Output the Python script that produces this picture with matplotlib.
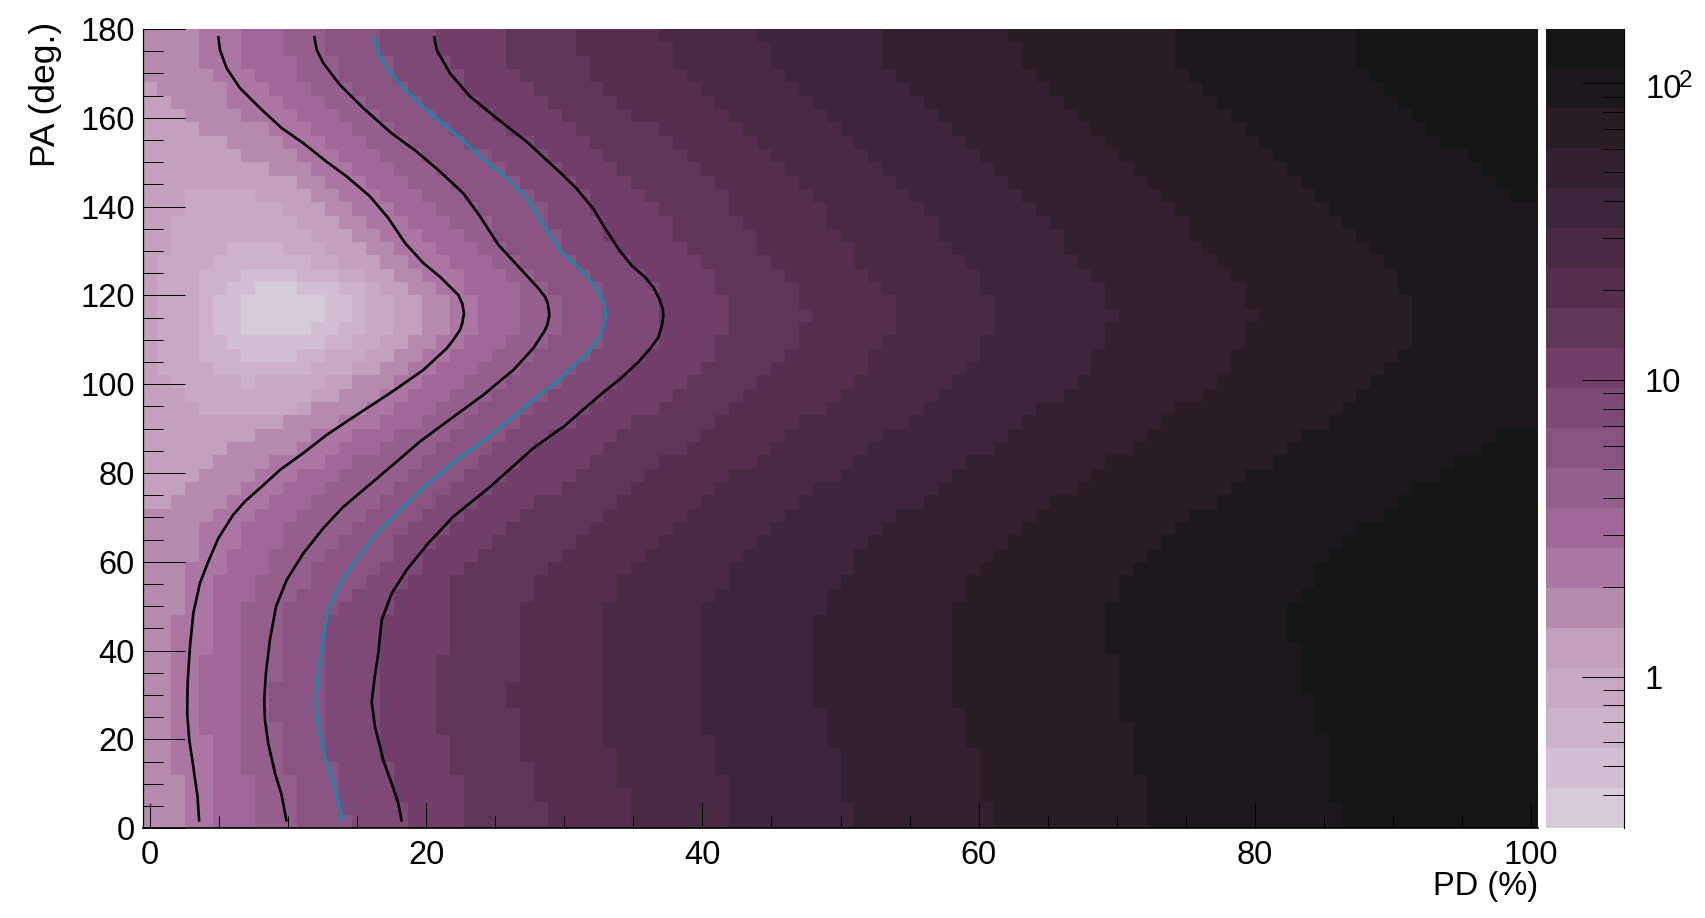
"""
PD / PA scan map: log-scale colour bands with four contour curves.
"""
import numpy as np
import matplotlib
matplotlib.use("Agg")
import matplotlib.pyplot as plt
from matplotlib.colors import BoundaryNorm, ListedColormap
from matplotlib.ticker import FixedLocator, MultipleLocator, NullFormatter

plt.rcParams['font.family'] = ['Liberation Sans', 'DejaVu Sans']

# Band limits and colours, lightest band first
band_levels = [0.308, 0.420, 0.573, 0.782, 1.066, 1.455, 1.985, 2.708, 3.694, 5.04, 6.87,
               9.38, 12.8, 17.45, 23.8, 32.5, 44.3, 60.5, 82.5, 112.5, 152.0]
band_colors = ['#D6CCD7', '#D2BFD1', '#CDB2CA', '#C8A8C3', '#C2A0BE', '#B68AAE', '#AB76A4',
               '#A06898', '#945E8D', '#895381', '#7D4976', '#713E69', '#613559', '#552E4F',
               '#4A2943', '#3E253A', '#322030', '#281C25', '#1C181D', '#141515']

# Closed regions around the minimum: rows, first bin and end bin of each region
core1_rows = [40, 39, 38, 37]
core1_left = [8, 7, 7, 7]
core1_right = [11, 13, 13, 12]
core2_rows = [41, 40, 39, 38, 37, 36, 35]
core2_left = [7, 6, 5, 5, 5, 6, 7]
core2_right = [11, 14, 15, 15, 14, 13, 11]
core3_rows = [43, 42, 41, 40, 39, 38, 37, 36, 35, 34, 33]
core3_left = [6, 5, 4, 4, 4, 4, 4, 4, 4, 5, 7]
core3_right = [10, 12, 14, 16, 16, 16, 16, 15, 13, 12, 8]
core4_rows = [47, 46, 45, 44, 43, 42, 41, 40, 39, 38, 37, 36, 35, 34, 33, 32, 31]
core4_left = [3, 3, 2, 2, 2, 1, 1, 1, 1, 1, 1, 1, 1, 1, 2, 3, 4]
core4_right = [8, 10, 11, 12, 13, 14, 16, 17, 18, 18, 18, 17, 16, 15, 13, 12, 11]
core5_rows = [55, 54, 53, 52, 51, 50, 49, 48, 47, 46, 45, 44, 43, 42, 41, 40,
              39, 38, 37, 36, 35, 34, 33, 32, 31, 30, 29, 28, 27, 26, 25, 24]
core5_left = [0] * 32
core5_right = [1, 2, 3, 4, 6, 7, 9, 11, 12, 13, 14, 15, 16, 17, 18, 19,
               20, 20, 20, 19, 18, 17, 15, 14, 12, 10, 8, 6, 5, 4, 3, 2]

# First bin past each band, one value per row, top row (PA 177-180) first
edge_5 = [4, 4, 4, 5, 6, 6, 7, 9, 10, 11,
          12, 13, 14, 15, 16, 17, 18, 19, 20, 21,
          22, 22, 22, 21, 20, 19, 18, 17, 16, 14,
          12, 11, 9, 8, 7, 6, 5, 4, 4, 4,
          3, 3, 3, 3, 2, 2, 2, 2, 2, 2,
          2, 2, 2, 2, 2, 2, 3, 3, 3, 3]
edge_6 = [7, 7, 7, 8, 9, 10, 11, 12, 13, 14,
          15, 16, 17, 18, 19, 20, 21, 22, 23, 23,
          24, 24, 24, 23, 22, 21, 20, 19, 18, 17,
          15, 14, 13, 11, 10, 9, 8, 7, 7, 6,
          6, 5, 5, 5, 5, 5, 5, 4, 4, 4,
          4, 4, 4, 5, 5, 5, 5, 5, 5, 5]
edge_7 = [10, 10, 11, 11, 12, 13, 14, 15, 16, 17,
          18, 19, 20, 21, 22, 23, 24, 25, 26, 27,
          27, 27, 27, 26, 25, 24, 23, 22, 21, 20,
          18, 17, 15, 14, 13, 12, 11, 10, 10, 9,
          9, 8, 8, 7, 7, 7, 7, 7, 7, 7,
          7, 7, 7, 7, 7, 7, 8, 8, 8, 8]
edge_8 = [13, 13, 14, 14, 15, 16, 17, 18, 19, 20,
          21, 22, 23, 24, 25, 25, 26, 27, 28, 29,
          30, 30, 30, 29, 28, 27, 26, 25, 24, 23,
          22, 21, 20, 19, 18, 17, 16, 15, 14, 13,
          12, 12, 11, 10, 10, 10, 10, 10, 10, 9,
          9, 9, 10, 10, 10, 10, 11, 11, 11, 11]
edge_9 = [17, 17, 18, 18, 19, 20, 21, 22, 23, 25,
          26, 27, 28, 29, 29, 30, 30, 31, 32, 33,
          33, 33, 33, 33, 32, 31, 30, 29, 28, 27,
          26, 25, 24, 23, 22, 21, 20, 19, 18, 18,
          17, 16, 15, 14, 13, 13, 13, 13, 13, 13,
          13, 13, 13, 13, 13, 14, 14, 14, 14, 15]
edge_10 = [21, 21, 22, 23, 23, 24, 25, 26, 28, 29,
           30, 31, 32, 32, 33, 33, 34, 35, 36, 37,
           37, 37, 37, 37, 36, 35, 34, 33, 32, 31,
           29, 28, 27, 26, 25, 24, 23, 22, 21, 20,
           20, 19, 18, 18, 17, 17, 17, 17, 17, 17,
           17, 17, 17, 17, 17, 18, 18, 18, 19, 19]
edge_11 = [26, 26, 26, 27, 28, 29, 30, 31, 32, 33,
           34, 35, 36, 37, 38, 38, 39, 40, 41, 41,
           42, 42, 42, 41, 41, 40, 39, 38, 37, 35,
           34, 33, 32, 31, 30, 28, 27, 26, 25, 24,
           23, 22, 22, 22, 22, 22, 22, 21, 21, 21,
           21, 21, 21, 22, 22, 22, 23, 23, 23, 23]
edge_12 = [31, 31, 32, 32, 33, 34, 35, 37, 38, 39,
           40, 41, 42, 42, 43, 44, 44, 45, 46, 47,
           47, 48, 47, 47, 46, 45, 44, 43, 42, 41,
           40, 39, 37, 36, 35, 34, 33, 32, 31, 30,
           29, 28, 28, 27, 27, 27, 27, 27, 27, 26,
           26, 27, 27, 27, 27, 28, 28, 28, 29, 29]
edge_13 = [37, 38, 38, 39, 40, 41, 42, 43, 44, 45,
           46, 47, 48, 49, 49, 50, 51, 51, 52, 53,
           54, 54, 54, 53, 52, 52, 51, 50, 49, 47,
           46, 45, 44, 42, 41, 40, 39, 38, 37, 36,
           35, 34, 34, 33, 33, 33, 33, 33, 33, 33,
           33, 33, 33, 33, 34, 34, 34, 35, 35, 35]
edge_14 = [44, 45, 45, 46, 47, 48, 49, 50, 51, 52,
           53, 54, 55, 56, 57, 57, 58, 59, 60, 60,
           61, 61, 61, 60, 60, 59, 58, 57, 56, 55,
           53, 52, 51, 50, 48, 47, 46, 45, 44, 43,
           42, 42, 41, 40, 40, 40, 40, 40, 40, 40,
           40, 40, 40, 41, 41, 41, 42, 42, 42, 42]
edge_15 = [53, 53, 53, 54, 55, 56, 57, 58, 59, 60,
           61, 62, 63, 64, 65, 66, 66, 67, 68, 69,
           69, 70, 69, 69, 68, 68, 67, 66, 64, 63,
           62, 61, 59, 58, 57, 56, 54, 53, 52, 51,
           51, 50, 49, 49, 48, 48, 48, 48, 48, 48,
           48, 49, 49, 49, 50, 50, 50, 50, 51, 51]
edge_16 = [62, 63, 63, 64, 65, 66, 67, 68, 69, 70,
           71, 72, 73, 74, 75, 75, 76, 77, 78, 79,
           79, 80, 79, 79, 78, 78, 77, 76, 74, 73,
           72, 71, 69, 68, 67, 65, 64, 63, 62, 61,
           60, 59, 59, 58, 58, 58, 58, 58, 58, 58,
           58, 59, 59, 59, 60, 60, 60, 60, 61, 61]
edge_17 = [74, 74, 74, 75, 76, 77, 78, 79, 80, 81,
           82, 83, 84, 85, 86, 87, 88, 89, 90, 90,
           91, 91, 91, 91, 90, 89, 88, 87, 86, 85,
           83, 82, 81, 79, 78, 77, 75, 74, 73, 72,
           71, 70, 70, 69, 69, 69, 69, 70, 70, 70,
           70, 70, 71, 71, 71, 71, 72, 72, 72, 72]
edge_18 = [87, 87, 87, 88, 89, 90, 91, 92, 93, 95,
           96, 97, 98, 100, 100, 100, 100, 100, 100, 100,
           100, 100, 100, 100, 100, 100, 100, 100, 100, 100,
           97, 96, 94, 93, 91, 90, 89, 87, 86, 85,
           84, 84, 83, 82, 82, 82, 83, 83, 83, 83,
           84, 84, 84, 85, 85, 85, 85, 85, 86, 86]

# Contour curves, read from top to bottom
curve1_pd = [4.93, 5.05, 5.53, 6.5, 7.95, 9.52, 11.09, 12.78, 14.23, 15.92, 17.25, 18.46, 19.78,
             20.99, 22.32, 22.6, 22.73, 22.6, 22.44, 21.96, 21.48, 19.78, 17.37, 14.47, 12.78, 11.09, 9.4, 7.95,
             6.86, 6.01, 4.93, 4.2, 3.6, 3.12, 2.88, 2.71, 2.68, 2.83, 3.12, 3.43, 3.55]
curve1_pa = [178.4, 175.3, 171.2, 166.7, 162.2, 157.7, 154.3, 150.1, 146.8, 142.3, 137.4, 131.8, 127.3,
             124.2, 120.1, 118.2, 116.0, 113.7, 112.2, 110.0, 108.1, 103.2, 98.0, 92.1, 88.6, 84.5, 80.7, 76.6,
             73.6, 70.6, 65.3, 60.0, 55.2, 48.4, 40.9, 32.7, 25.9, 19.9, 13.9, 7.1, 1.5]
curve2_pd = [11.88, 12.06, 12.54, 13.75, 15.43, 17.49, 19.3, 20.99, 22.68, 23.89, 25.22, 26.67, 28.12, 28.6,
             28.8, 28.91, 28.77, 28.6, 27.75, 26.3, 24.13, 21.72, 19.54, 17.86, 16.16, 13.99, 12.54,
             11.09, 9.88, 9.11, 8.67, 8.38, 8.26, 8.31, 8.55, 9.04, 9.52, 9.88]
curve2_pa = [178.4, 175.3, 172.3, 167.4, 162.2, 156.5, 152.4, 147.9, 143.0, 137.8, 131.4, 126.5, 121.6, 119.7,
             118.2, 115.6, 113.4, 112.2, 108.1, 103.2, 97.6, 92.1, 87.1, 82.6, 78.1, 72.4, 67.6,
             61.9, 55.9, 49.9, 42.4, 34.9, 28.9, 24.4, 19.1, 12.4, 7.5, 1.5]
curve3_pd = [16.16, 16.41, 16.88, 18.33, 20.27, 22.2, 23.89, 25.83, 27.28, 28.48, 29.69, 30.9, 31.86, 32.59,
             32.9, 33.0, 32.9, 32.64, 32.1, 31.26, 30.29, 29.69, 27.75, 26.07, 23.89, 22.2, 20.27, 18.33, 16.41,
             14.96, 13.75, 12.9, 12.49, 12.17, 12.01, 12.17, 12.66, 13.26, 13.7, 13.91]
curve3_pa = [178.4, 175.3, 172.3, 166.7, 161.0, 156.1, 151.3, 146.4, 141.9, 135.9, 130.1, 126.7, 123.3, 120.3,
             118.1, 115.8, 114.0, 111.3, 108.7, 105.7, 103.1, 101.2, 96.5, 92.1, 86.7, 83.0, 78.1, 72.4, 66.4,
             60.8, 55.2, 49.2, 42.4, 34.9, 28.2, 22.9, 16.1, 10.1, 5.6, 1.5]
curve4_pd = [20.56, 20.75, 21.72, 23.17, 25.1, 27.28, 29.69, 30.9, 32.1, 32.83, 33.91, 34.88, 35.85, 36.45,
             36.88, 37.13, 37.17, 37.06, 36.81, 36.21, 35.36, 34.04, 32.83, 31.14, 30.05, 27.75, 24.62,
             21.96, 20.14, 18.58, 17.49, 16.77, 16.52, 16.23, 16.04, 16.28, 16.88, 17.49, 17.97, 18.22]
curve4_pa = [178.4, 175.3, 170.0, 164.8, 159.9, 154.6, 147.7, 144.0, 139.5, 135.7, 130.5, 126.7, 124.1, 121.8,
             119.2, 117.0, 115.5, 113.2, 110.6, 108.0, 105.0, 101.2, 98.2, 93.7, 90.7, 85.6, 76.9,
             70.2, 64.2, 58.2, 52.9, 46.9, 39.4, 33.4, 28.5, 22.9, 15.4, 10.1, 5.6, 1.5]

x_ticks = [0, 20, 40, 60, 80, 100]
y_ticks = [0, 20, 40, 60, 80, 100, 120, 140, 160, 180]
bar_major = [1, 10, 100]
bar_minor = [0.4, 0.5, 0.6, 0.7, 0.8, 0.9, 2, 3, 4, 5, 6, 7, 8, 9, 20, 30, 40, 50, 60, 70, 80, 90]

W, H = 1705, 918
N_ROWS, N_BINS = 60, 100


def px_axes(fig, left, top, right, bottom):
    """Add axes given pixel edges of the image."""
    return fig.add_axes([left / W, 1 - bottom / H, (right - left) / W, (bottom - top) / H])


def build_bands():
    """Turn the region and edge lists into one band index per cell."""
    bins = np.arange(N_BINS)
    bands = np.zeros((N_ROWS, N_BINS), dtype=int)
    cores = [(core1_rows, core1_left, core1_right), (core2_rows, core2_left, core2_right),
             (core3_rows, core3_left, core3_right), (core4_rows, core4_left, core4_right),
             (core5_rows, core5_left, core5_right)]
    for rows, left, right in cores:
        inside = np.zeros((N_ROWS, N_BINS), dtype=bool)
        for row, l, r in zip(rows, left, right):
            inside[row, l:r] = True
        bands += ~inside
    edges = [edge_5, edge_6, edge_7, edge_8, edge_9, edge_10, edge_11,
             edge_12, edge_13, edge_14, edge_15, edge_16, edge_17, edge_18]
    for edge in edges:
        by_row = np.array(edge)[::-1]
        bands += bins[None, :] >= by_row[:, None]
    return bands


def main():
    fig = plt.figure(figsize=(W / 100, H / 100), dpi=100)
    ax = px_axes(fig, 143.3, 29, 1537.7, 828.3)
    cax = px_axes(fig, 1546, 29, 1624, 828.3)

    cmap = ListedColormap(band_colors)
    norm = BoundaryNorm(band_levels, cmap.N)
    levels = np.array(band_levels)
    centres = np.sqrt(levels[:-1] * levels[1:])

    pd_edges = np.linspace(-0.5, 100.5, N_BINS + 1)
    pa_edges = np.linspace(0, 180, N_ROWS + 1)
    ax.pcolormesh(pd_edges, pa_edges, centres[build_bands()], cmap=cmap, norm=norm,
                  edgecolors='none', antialiased=False)

    for xs, ys, color in [(curve1_pd, curve1_pa, 'black'), (curve2_pd, curve2_pa, 'black'),
                          (curve3_pd, curve3_pa, '#1787AA'), (curve4_pd, curve4_pa, 'black')]:
        ax.plot(xs, ys, color=color, lw=1.9, solid_capstyle='butt', solid_joinstyle='round')

    ax.set_xlim(-0.5, 100.5)
    ax.set_ylim(0, 180)
    ax.spines['top'].set_visible(False)
    ax.spines['right'].set_visible(False)
    ax.spines['left'].set_linewidth(0.9)
    ax.spines['bottom'].set_linewidth(1.2)
    ax.xaxis.set_major_locator(FixedLocator(x_ticks))
    ax.xaxis.set_minor_locator(MultipleLocator(5))
    ax.yaxis.set_major_locator(FixedLocator(y_ticks))
    ax.yaxis.set_minor_locator(MultipleLocator(5))
    ax.tick_params(axis='x', which='major', direction='in', length=18, width=0.7, labelsize=23.5, pad=8.5)
    ax.tick_params(axis='x', which='minor', direction='in', length=8.6, width=0.7)
    ax.tick_params(axis='y', which='major', direction='in', length=30, width=0.7, labelsize=23.5, pad=6)
    ax.tick_params(axis='y', which='minor', direction='in', length=14.4, width=0.7)

    # Palette strip next to the map
    cax.pcolormesh([0, 1], levels, centres[:, None], cmap=cmap, norm=norm,
                   edgecolors='none', antialiased=False)
    cax.set_yscale('log')
    cax.set_ylim(band_levels[0], band_levels[-1])
    cax.set_xlim(0, 1)
    cax.set_xticks([])
    for side in ['top', 'left', 'bottom']:
        cax.spines[side].set_visible(False)
    cax.spines['right'].set_linewidth(0.8)
    cax.yaxis.tick_right()
    cax.yaxis.set_major_locator(FixedLocator(bar_major))
    cax.yaxis.set_minor_locator(FixedLocator(bar_minor))
    cax.yaxis.set_minor_formatter(NullFormatter())
    cax.set_yticklabels(['1', '10', ''])
    cax.tick_params(axis='y', which='major', direction='in', length=30, width=0.7, labelsize=23.5, pad=15)
    cax.tick_params(axis='y', which='minor', direction='in', length=15, width=0.7)

    # The 100 label sits a little below its tick, exponent set by hand as in the original
    fig.text(1645 / W, 1 - 98 / H, '10', ha='left', va='baseline', fontsize=23.5)
    fig.text(1679 / W, 1 - 87 / H, '2', ha='left', va='baseline', fontsize=17.5)

    fig.text(1538 / W, 1 - 886 / H, 'PD (%)', ha='right', va='center', fontsize=23.5)
    fig.text(45 / W, 1 - 22 / H, 'PA (deg.)', ha='center', va='top', rotation=90, fontsize=25.5)

    fig.savefig('out.png', dpi=100)


if __name__ == "__main__":
    main()
